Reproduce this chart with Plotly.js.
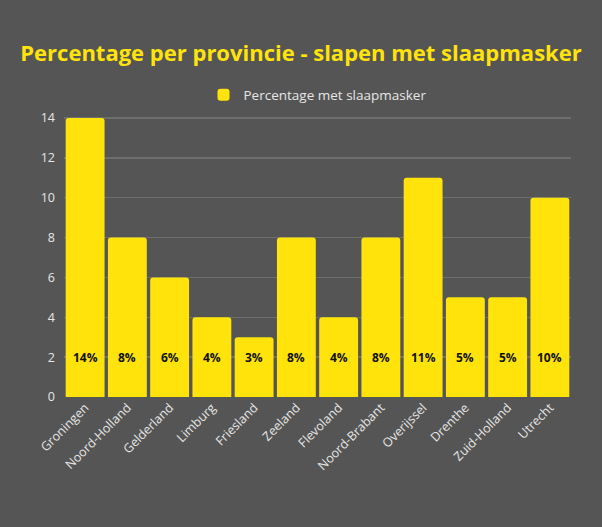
<!DOCTYPE html>
<html>
<head>
<meta charset="utf-8">
<script src="https://cdn.plot.ly/plotly-3.0.1.min.js"></script>
<style>html,body{margin:0;padding:0;background:#555555;}#chart{width:602px;height:527px;}</style>
</head>
<body>
<div id="chart"></div>
<script>
const provinces = ["Groningen","Noord-Holland","Gelderland","Limburg","Friesland","Zeeland","Flevoland","Noord-Brabant","Overijssel","Drenthe","Zuid-Holland","Utrecht"];
const percentages = [14, 8, 6, 4, 3, 8, 4, 8, 11, 5, 5, 10];
const seriesName = "Percentage met slaapmasker";
const yTicks = [0, 2, 4, 6, 8, 10, 12, 14];

const yellow = "#FFE30A";
const labelColor = "#e6e6e6";

const trace = {
  type: "bar",
  x: provinces,
  y: percentages,
  name: seriesName,
  marker: {color: yellow, cornerradius: 3},
  hoverinfo: "none"
};

const annotations = provinces.map((p, i) => ({
  x: p, y: 0, xref: "x", yref: "y",
  text: "<b>" + percentages[i] + "%</b>",
  showarrow: false, yshift: 40, yanchor: "middle",
  font: {family: "Open Sans", size: 12, color: "#111111"}
}));

const layout = {
  width: 602, height: 527,
  paper_bgcolor: "#555555", plot_bgcolor: "#555555",
  margin: {l: 64, r: 31, t: 116, b: 130},
  bargap: 0.08,
  title: {
    text: "<b>Percentage per provincie - slapen met slaapmasker</b>",
    font: {family: "Open Sans", size: 22, color: yellow},
    x: 0.5, xanchor: "center", y: 1 - 53/527, yref: "container", yanchor: "middle"
  },
  showlegend: true,
  legend: {
    orientation: "h", x: 0.5, xanchor: "center", y: 1.075, yanchor: "middle",
    font: {family: "Open Sans", size: 13.5, color: labelColor},
    bgcolor: "rgba(0,0,0,0)", itemwidth: 30
  },
  xaxis: {
    tickangle: -45,
    tickfont: {family: "Open Sans", size: 12.5, color: labelColor},
    showgrid: false, zeroline: false, showline: false, ticks: ""
  },
  yaxis: {
    range: [0, 14.1],
    tickvals: yTicks,
    tickfont: {family: "Open Sans", size: 12.5, color: labelColor},
    gridcolor: "#6e6e6e", gridwidth: 1.5,
    zeroline: false, showline: false, ticks: "", ticklen: 0,
    ticklabelstandoff: 8
  },
  annotations: annotations
};

Plotly.newPlot("chart", [trace], layout, {displayModeBar: false, staticPlot: true});
</script>
</body>
</html>
